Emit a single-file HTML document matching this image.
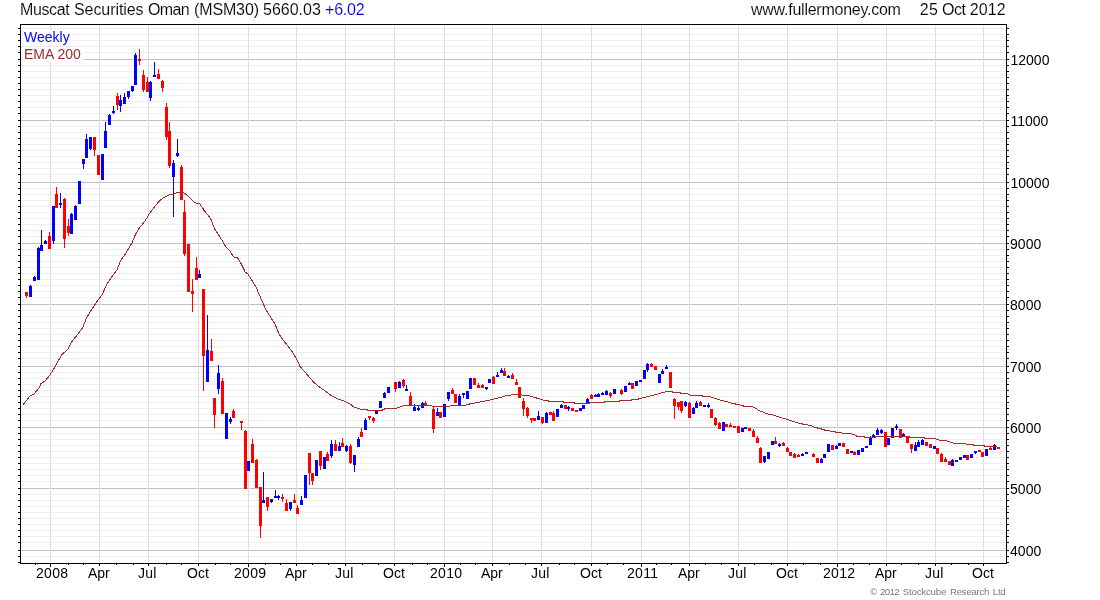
<!DOCTYPE html>
<html lang="en">
<head>
<meta charset="utf-8">
<title>Muscat Securities Oman (MSM30) - Weekly</title>
<style>
html,body{margin:0;padding:0;background:#fff;}
body{width:1100px;height:600px;overflow:hidden;position:relative;font-family:"Liberation Sans",Arial,Helvetica,sans-serif;}
svg{position:absolute;left:0;top:0;display:block;}
text{font-family:"Liberation Sans",Arial,Helvetica,sans-serif;}
#title,#site,#date{stroke:#fff;stroke-width:0.12px;paint-order:fill stroke;}
.t14{font-size:14px;}
</style>
</head>
<body>
<svg width="1100" height="600" viewBox="0 0 1100 600">
<rect x="0" y="0" width="1100" height="600" fill="#ffffff"/>
<g shape-rendering="crispEdges">
<path fill="#efefef" d="M22 28h983v1h-983zM22 34h983v1h-983zM22 40h983v1h-983zM22 46h983v1h-983zM22 52h983v1h-983zM22 65h983v1h-983zM22 71h983v1h-983zM22 77h983v1h-983zM22 83h983v1h-983zM22 89h983v1h-983zM22 95h983v1h-983zM22 101h983v1h-983zM22 107h983v1h-983zM22 113h983v1h-983zM22 126h983v1h-983zM22 132h983v1h-983zM22 138h983v1h-983zM22 144h983v1h-983zM22 150h983v1h-983zM22 156h983v1h-983zM22 162h983v1h-983zM22 168h983v1h-983zM22 174h983v1h-983zM22 188h983v1h-983zM22 194h983v1h-983zM22 200h983v1h-983zM22 206h983v1h-983zM22 212h983v1h-983zM22 218h983v1h-983zM22 224h983v1h-983zM22 230h983v1h-983zM22 236h983v1h-983zM22 249h983v1h-983zM22 255h983v1h-983zM22 261h983v1h-983zM22 267h983v1h-983zM22 273h983v1h-983zM22 279h983v1h-983zM22 285h983v1h-983zM22 291h983v1h-983zM22 297h983v1h-983zM22 310h983v1h-983zM22 316h983v1h-983zM22 322h983v1h-983zM22 328h983v1h-983zM22 334h983v1h-983zM22 340h983v1h-983zM22 346h983v1h-983zM22 352h983v1h-983zM22 358h983v1h-983zM22 372h983v1h-983zM22 378h983v1h-983zM22 384h983v1h-983zM22 390h983v1h-983zM22 396h983v1h-983zM22 402h983v1h-983zM22 408h983v1h-983zM22 414h983v1h-983zM22 420h983v1h-983zM22 433h983v1h-983zM22 439h983v1h-983zM22 445h983v1h-983zM22 451h983v1h-983zM22 457h983v1h-983zM22 463h983v1h-983zM22 469h983v1h-983zM22 475h983v1h-983zM22 481h983v1h-983zM22 494h983v1h-983zM22 500h983v1h-983zM22 506h983v1h-983zM22 512h983v1h-983zM22 518h983v1h-983zM22 524h983v1h-983zM22 530h983v1h-983zM22 536h983v1h-983zM22 542h983v1h-983zM22 556h983v1h-983z"/>
<path fill="#c0c0c0" d="M21 59h985v1h-985zM21 120h985v1h-985zM21 182h985v1h-985zM21 243h985v1h-985zM21 304h985v1h-985zM21 366h985v1h-985zM21 427h985v1h-985zM21 488h985v1h-985zM21 550h985v1h-985z"/>
<path fill="#dedede" d="M50 26h1v536h-1zM99 26h1v536h-1zM148 26h1v536h-1zM198 26h1v536h-1zM248 26h1v536h-1zM296 26h1v536h-1zM345 26h1v536h-1zM394 26h1v536h-1zM444 26h1v536h-1zM492 26h1v536h-1zM541 26h1v536h-1zM591 26h1v536h-1zM641 26h1v536h-1zM689 26h1v536h-1zM738 26h1v536h-1zM787 26h1v536h-1zM837 26h1v536h-1zM886 26h1v536h-1zM935 26h1v536h-1zM983 26h1v536h-1z"/>
<path fill="#ececec" d="M50 25h1v1h-1zM99 25h1v1h-1zM148 25h1v1h-1zM198 25h1v1h-1zM248 25h1v1h-1zM296 25h1v1h-1zM345 25h1v1h-1zM394 25h1v1h-1zM444 25h1v1h-1zM492 25h1v1h-1zM541 25h1v1h-1zM591 25h1v1h-1zM641 25h1v1h-1zM689 25h1v1h-1zM738 25h1v1h-1zM787 25h1v1h-1zM837 25h1v1h-1zM886 25h1v1h-1zM935 25h1v1h-1zM983 25h1v1h-1z"/>
<rect x="22" y="30" width="51" height="15" fill="#fff"/>
<rect x="22" y="47" width="62" height="15" fill="#fff"/>
<path fill="#000" d="M20 24h987v1h-987zM20 563h987v1h-987zM20 24h1v540h-1zM1006 24h1v540h-1zM18 28h2v1h-2zM1007 28h2v1h-2zM18 34h2v1h-2zM1007 34h2v1h-2zM18 40h2v1h-2zM1007 40h2v1h-2zM18 46h2v1h-2zM1007 46h2v1h-2zM18 52h2v1h-2zM1007 52h2v1h-2zM18 65h2v1h-2zM1007 65h2v1h-2zM18 71h2v1h-2zM1007 71h2v1h-2zM18 77h2v1h-2zM1007 77h2v1h-2zM18 83h2v1h-2zM1007 83h2v1h-2zM18 89h2v1h-2zM1007 89h2v1h-2zM18 95h2v1h-2zM1007 95h2v1h-2zM18 101h2v1h-2zM1007 101h2v1h-2zM18 107h2v1h-2zM1007 107h2v1h-2zM18 113h2v1h-2zM1007 113h2v1h-2zM18 126h2v1h-2zM1007 126h2v1h-2zM18 132h2v1h-2zM1007 132h2v1h-2zM18 138h2v1h-2zM1007 138h2v1h-2zM18 144h2v1h-2zM1007 144h2v1h-2zM18 150h2v1h-2zM1007 150h2v1h-2zM18 156h2v1h-2zM1007 156h2v1h-2zM18 162h2v1h-2zM1007 162h2v1h-2zM18 168h2v1h-2zM1007 168h2v1h-2zM18 174h2v1h-2zM1007 174h2v1h-2zM18 188h2v1h-2zM1007 188h2v1h-2zM18 194h2v1h-2zM1007 194h2v1h-2zM18 200h2v1h-2zM1007 200h2v1h-2zM18 206h2v1h-2zM1007 206h2v1h-2zM18 212h2v1h-2zM1007 212h2v1h-2zM18 218h2v1h-2zM1007 218h2v1h-2zM18 224h2v1h-2zM1007 224h2v1h-2zM18 230h2v1h-2zM1007 230h2v1h-2zM18 236h2v1h-2zM1007 236h2v1h-2zM18 249h2v1h-2zM1007 249h2v1h-2zM18 255h2v1h-2zM1007 255h2v1h-2zM18 261h2v1h-2zM1007 261h2v1h-2zM18 267h2v1h-2zM1007 267h2v1h-2zM18 273h2v1h-2zM1007 273h2v1h-2zM18 279h2v1h-2zM1007 279h2v1h-2zM18 285h2v1h-2zM1007 285h2v1h-2zM18 291h2v1h-2zM1007 291h2v1h-2zM18 297h2v1h-2zM1007 297h2v1h-2zM18 310h2v1h-2zM1007 310h2v1h-2zM18 316h2v1h-2zM1007 316h2v1h-2zM18 322h2v1h-2zM1007 322h2v1h-2zM18 328h2v1h-2zM1007 328h2v1h-2zM18 334h2v1h-2zM1007 334h2v1h-2zM18 340h2v1h-2zM1007 340h2v1h-2zM18 346h2v1h-2zM1007 346h2v1h-2zM18 352h2v1h-2zM1007 352h2v1h-2zM18 358h2v1h-2zM1007 358h2v1h-2zM18 372h2v1h-2zM1007 372h2v1h-2zM18 378h2v1h-2zM1007 378h2v1h-2zM18 384h2v1h-2zM1007 384h2v1h-2zM18 390h2v1h-2zM1007 390h2v1h-2zM18 396h2v1h-2zM1007 396h2v1h-2zM18 402h2v1h-2zM1007 402h2v1h-2zM18 408h2v1h-2zM1007 408h2v1h-2zM18 414h2v1h-2zM1007 414h2v1h-2zM18 420h2v1h-2zM1007 420h2v1h-2zM18 433h2v1h-2zM1007 433h2v1h-2zM18 439h2v1h-2zM1007 439h2v1h-2zM18 445h2v1h-2zM1007 445h2v1h-2zM18 451h2v1h-2zM1007 451h2v1h-2zM18 457h2v1h-2zM1007 457h2v1h-2zM18 463h2v1h-2zM1007 463h2v1h-2zM18 469h2v1h-2zM1007 469h2v1h-2zM18 475h2v1h-2zM1007 475h2v1h-2zM18 481h2v1h-2zM1007 481h2v1h-2zM18 494h2v1h-2zM1007 494h2v1h-2zM18 500h2v1h-2zM1007 500h2v1h-2zM18 506h2v1h-2zM1007 506h2v1h-2zM18 512h2v1h-2zM1007 512h2v1h-2zM18 518h2v1h-2zM1007 518h2v1h-2zM18 524h2v1h-2zM1007 524h2v1h-2zM18 530h2v1h-2zM1007 530h2v1h-2zM18 536h2v1h-2zM1007 536h2v1h-2zM18 542h2v1h-2zM1007 542h2v1h-2zM18 556h2v1h-2zM1007 556h2v1h-2zM18 562h2v1h-2zM1007 562h2v1h-2zM18 59h2v1h-2zM1007 59h2v1h-2zM18 120h2v1h-2zM1007 120h2v1h-2zM18 182h2v1h-2zM1007 182h2v1h-2zM18 243h2v1h-2zM1007 243h2v1h-2zM18 304h2v1h-2zM1007 304h2v1h-2zM18 366h2v1h-2zM1007 366h2v1h-2zM18 427h2v1h-2zM1007 427h2v1h-2zM18 488h2v1h-2zM1007 488h2v1h-2zM18 550h2v1h-2zM1007 550h2v1h-2zM35 564h1v1h-1zM68 564h1v1h-1zM83 564h1v1h-1zM116 564h1v1h-1zM133 564h1v1h-1zM166 564h1v1h-1zM181 564h1v1h-1zM215 564h1v1h-1zM230 564h1v1h-1zM265 564h1v1h-1zM280 564h1v1h-1zM312 564h1v1h-1zM328 564h1v1h-1zM362 564h1v1h-1zM378 564h1v1h-1zM412 564h1v1h-1zM427 564h1v1h-1zM460 564h1v1h-1zM475 564h1v1h-1zM509 564h1v1h-1zM525 564h1v1h-1zM559 564h1v1h-1zM574 564h1v1h-1zM607 564h1v1h-1zM623 564h1v1h-1zM656 564h1v1h-1zM671 564h1v1h-1zM705 564h1v1h-1zM721 564h1v1h-1zM754 564h1v1h-1zM771 564h1v1h-1zM803 564h1v1h-1zM820 564h1v1h-1zM853 564h1v1h-1zM869 564h1v1h-1zM901 564h1v1h-1zM918 564h1v1h-1zM951 564h1v1h-1zM968 564h1v1h-1zM50 564h1v3h-1zM99 564h1v2h-1zM148 564h1v2h-1zM198 564h1v2h-1zM248 564h1v3h-1zM296 564h1v2h-1zM345 564h1v2h-1zM394 564h1v2h-1zM444 564h1v3h-1zM492 564h1v2h-1zM541 564h1v2h-1zM591 564h1v2h-1zM641 564h1v3h-1zM689 564h1v2h-1zM738 564h1v2h-1zM787 564h1v2h-1zM837 564h1v3h-1zM886 564h1v2h-1zM935 564h1v2h-1zM983 564h1v2h-1z"/>
<path fill="#ff0000" d="M25 292h3v4h-3zM26 296h1v2h-1zM48 236h3v13h-3zM49 232h1v4h-1zM55 194h3v14h-3zM56 187h1v7h-1zM63 199h3v40h-3zM64 198h1v1h-1zM64 239h1v9h-1zM67 226h3v7h-3zM68 219h1v7h-1zM68 233h1v3h-1zM93 137h3v13h-3zM94 150h1v6h-1zM97 155h3v20h-3zM116 96h3v9h-3zM117 93h1v3h-1zM117 105h1v5h-1zM138 59h3v2h-3zM139 49h1v10h-1zM139 61h1v4h-1zM142 75h3v15h-3zM143 70h1v5h-1zM143 90h1v2h-1zM146 82h3v10h-3zM147 77h1v5h-1zM157 74h3v5h-3zM158 69h1v5h-1zM161 81h3v7h-3zM162 80h1v1h-1zM162 88h1v4h-1zM165 107h3v30h-3zM166 103h1v4h-1zM166 137h1v3h-1zM168 131h3v35h-3zM169 122h1v9h-1zM169 166h1v2h-1zM180 167h3v33h-3zM181 165h1v2h-1zM183 212h3v42h-3zM184 200h1v12h-1zM184 254h1v2h-1zM187 244h3v48h-3zM191 291h3v3h-3zM192 279h1v12h-1zM192 294h1v18h-1zM195 268h3v12h-3zM196 257h1v11h-1zM202 289h3v67h-3zM203 356h1v35h-1zM210 351h3v10h-3zM211 339h1v12h-1zM213 398h3v17h-3zM214 415h1v13h-1zM221 381h3v33h-3zM222 378h1v3h-1zM232 411h3v7h-3zM233 409h1v2h-1zM240 421h3v2h-3zM241 423h1v7h-1zM244 431h3v58h-3zM245 430h1v1h-1zM251 444h3v19h-3zM252 439h1v5h-1zM255 460h3v28h-3zM256 459h1v1h-1zM259 487h3v39h-3zM260 526h1v12h-1zM266 497h3v10h-3zM267 507h1v4h-1zM281 497h3v2h-3zM282 494h1v3h-1zM282 499h1v3h-1zM285 503h3v8h-3zM286 499h1v4h-1zM293 500h3v3h-3zM294 494h1v6h-1zM296 508h3v6h-3zM297 505h1v3h-1zM308 453h3v20h-3zM309 473h1v12h-1zM311 473h3v8h-3zM312 481h1v4h-1zM319 451h3v15h-3zM320 466h1v4h-1zM326 454h3v7h-3zM327 452h1v2h-1zM334 444h3v7h-3zM335 440h1v4h-1zM341 443h3v4h-3zM342 438h1v5h-1zM349 446h3v17h-3zM350 444h1v2h-1zM350 463h1v1h-1zM360 432h3v5h-3zM361 428h1v4h-1zM368 416h3v2h-3zM369 418h1v2h-1zM372 418h3v3h-3zM373 417h1v1h-1zM373 421h1v2h-1zM394 382h3v7h-3zM395 389h1v3h-1zM402 380h3v6h-3zM403 379h1v1h-1zM403 386h1v2h-1zM409 396h3v9h-3zM410 392h1v4h-1zM424 403h3v2h-3zM425 401h1v2h-1zM432 409h3v20h-3zM433 407h1v2h-1zM433 429h1v4h-1zM439 412h3v6h-3zM451 390h3v4h-3zM452 388h1v2h-1zM454 394h3v9h-3zM473 378h3v7h-3zM477 385h3v3h-3zM478 383h1v2h-1zM481 385h3v3h-3zM482 384h1v1h-1zM492 377h3v7h-3zM493 376h1v1h-1zM503 371h3v5h-3zM504 368h1v3h-1zM511 375h3v4h-3zM512 373h1v2h-1zM515 382h3v3h-3zM516 379h1v3h-1zM518 387h3v11h-3zM522 401h3v8h-3zM523 398h1v3h-1zM523 409h1v7h-1zM526 408h3v8h-3zM527 407h1v1h-1zM527 416h1v2h-1zM530 418h3v2h-3zM531 420h1v3h-1zM533 418h3v3h-3zM541 417h3v6h-3zM542 423h1v1h-1zM549 412h3v3h-3zM552 413h3v8h-3zM553 411h1v2h-1zM564 405h3v4h-3zM571 408h3v3h-3zM575 410h3v2h-3zM590 395h3v4h-3zM591 394h1v1h-1zM609 393h3v3h-3zM610 392h1v1h-1zM610 396h1v2h-1zM620 390h3v4h-3zM621 389h1v1h-1zM621 394h1v1h-1zM631 383h3v6h-3zM650 364h3v3h-3zM651 363h1v1h-1zM654 366h3v4h-3zM669 372h3v16h-3zM673 399h3v7h-3zM674 398h1v1h-1zM674 406h1v13h-1zM677 402h3v5h-3zM678 407h1v3h-1zM680 401h3v10h-3zM681 411h1v2h-1zM688 403h3v15h-3zM689 402h1v1h-1zM699 402h3v4h-3zM700 401h1v1h-1zM710 409h3v9h-3zM714 418h3v7h-3zM715 417h1v1h-1zM715 425h1v1h-1zM718 423h3v6h-3zM719 422h1v1h-1zM725 424h3v3h-3zM729 425h3v2h-3zM730 423h1v2h-1zM733 426h3v2h-3zM737 426h3v7h-3zM748 428h3v3h-3zM752 431h3v6h-3zM753 429h1v2h-1zM756 438h3v5h-3zM757 436h1v2h-1zM759 448h3v15h-3zM760 447h1v1h-1zM774 441h3v3h-3zM775 437h1v4h-1zM782 443h3v3h-3zM783 442h1v1h-1zM786 448h3v4h-3zM787 447h1v1h-1zM789 452h3v4h-3zM793 454h3v4h-3zM794 453h1v1h-1zM797 455h3v2h-3zM798 454h1v1h-1zM812 454h3v3h-3zM813 453h1v1h-1zM816 458h3v5h-3zM831 445h3v5h-3zM842 443h3v4h-3zM846 449h3v5h-3zM853 452h3v3h-3zM854 451h1v1h-1zM884 432h3v15h-3zM899 429h3v9h-3zM906 436h3v7h-3zM910 444h3v5h-3zM911 449h1v4h-1zM925 442h3v4h-3zM929 444h3v4h-3zM936 448h3v6h-3zM940 454h3v8h-3zM941 453h1v1h-1zM944 459h3v3h-3zM945 457h1v2h-1zM948 461h3v4h-3zM966 455h3v5h-3zM978 450h3v2h-3zM981 452h3v5h-3zM989 448h3v2h-3zM990 447h1v1h-1zM997 447h3v2h-3z"/>
<path fill="#0000ff" d="M29 286h3v11h-3zM30 285h1v1h-1zM33 277h3v4h-3zM34 276h1v1h-1zM37 248h3v32h-3zM38 247h1v1h-1zM40 245h3v6h-3zM41 230h1v15h-1zM44 241h3v3h-3zM45 240h1v1h-1zM52 206h3v35h-3zM53 241h1v3h-1zM59 203h3v2h-3zM60 193h1v10h-1zM60 205h1v3h-1zM70 214h3v20h-3zM71 213h1v1h-1zM74 206h3v14h-3zM75 205h1v1h-1zM78 181h3v23h-3zM82 159h3v5h-3zM83 164h1v5h-1zM85 139h3v19h-3zM86 134h1v5h-1zM89 137h3v12h-3zM90 149h1v1h-1zM101 154h3v26h-3zM104 131h3v17h-3zM105 122h1v9h-1zM108 115h3v10h-3zM109 114h1v1h-1zM112 111h3v2h-3zM113 106h1v5h-1zM113 113h1v1h-1zM119 100h3v6h-3zM120 95h1v5h-1zM120 106h1v6h-1zM123 97h3v7h-3zM124 93h1v4h-1zM127 91h3v6h-3zM128 97h1v2h-1zM131 86h3v5h-3zM132 91h1v1h-1zM134 55h3v30h-3zM135 53h1v2h-1zM149 82h3v16h-3zM150 81h1v1h-1zM150 98h1v3h-1zM153 75h3v2h-3zM154 62h1v13h-1zM172 163h3v14h-3zM173 160h1v3h-1zM173 177h1v40h-1zM176 153h3v3h-3zM177 139h1v14h-1zM177 156h1v1h-1zM198 274h3v4h-3zM199 270h1v4h-1zM206 350h3v32h-3zM207 315h1v35h-1zM217 373h3v16h-3zM218 365h1v8h-1zM218 389h1v5h-1zM225 413h3v26h-3zM229 419h3v3h-3zM230 417h1v2h-1zM230 422h1v2h-1zM247 461h3v10h-3zM262 500h3v3h-3zM263 472h1v28h-1zM270 499h3v3h-3zM271 502h1v1h-1zM274 496h3v2h-3zM275 490h1v6h-1zM277 496h3v2h-3zM278 495h1v1h-1zM278 498h1v2h-1zM289 502h3v7h-3zM290 509h1v2h-1zM300 500h3v5h-3zM301 496h1v4h-1zM304 475h3v23h-3zM315 460h3v16h-3zM323 457h3v12h-3zM330 444h3v12h-3zM331 440h1v4h-1zM331 456h1v2h-1zM338 446h3v5h-3zM339 442h1v4h-1zM345 446h3v5h-3zM346 445h1v1h-1zM346 451h1v1h-1zM353 455h3v10h-3zM354 465h1v7h-1zM357 439h3v8h-3zM358 437h1v2h-1zM364 420h3v10h-3zM365 418h1v2h-1zM375 411h3v3h-3zM379 401h3v7h-3zM383 393h3v5h-3zM384 392h1v1h-1zM387 387h3v6h-3zM398 382h3v6h-3zM399 381h1v1h-1zM405 389h3v2h-3zM406 385h1v4h-1zM413 407h3v4h-3zM414 404h1v3h-1zM417 408h3v2h-3zM418 406h1v2h-1zM418 410h1v1h-1zM421 403h3v5h-3zM422 402h1v1h-1zM436 412h3v4h-3zM437 408h1v4h-1zM443 404h3v13h-3zM447 392h3v7h-3zM448 399h1v2h-1zM458 396h3v9h-3zM459 394h1v2h-1zM462 393h3v2h-3zM463 395h1v3h-1zM466 391h3v8h-3zM469 378h3v11h-3zM485 387h3v2h-3zM486 389h1v1h-1zM488 379h3v4h-3zM496 375h3v2h-3zM497 372h1v3h-1zM500 370h3v3h-3zM501 368h1v2h-1zM507 376h3v2h-3zM508 375h1v1h-1zM537 416h3v4h-3zM538 411h1v5h-1zM545 413h3v10h-3zM546 412h1v1h-1zM556 409h3v8h-3zM560 405h3v3h-3zM561 404h1v1h-1zM567 407h3v2h-3zM568 406h1v1h-1zM568 409h1v2h-1zM579 408h3v3h-3zM582 405h3v4h-3zM586 399h3v4h-3zM587 398h1v1h-1zM594 395h3v2h-3zM595 394h1v1h-1zM597 394h3v3h-3zM598 393h1v1h-1zM601 393h3v2h-3zM602 392h1v1h-1zM605 391h3v4h-3zM606 390h1v1h-1zM613 389h3v5h-3zM624 386h3v6h-3zM628 383h3v2h-3zM629 382h1v1h-1zM635 381h3v5h-3zM639 380h3v2h-3zM643 370h3v9h-3zM646 364h3v6h-3zM647 363h1v1h-1zM647 370h1v2h-1zM658 374h3v9h-3zM661 371h3v3h-3zM662 369h1v2h-1zM665 367h3v2h-3zM666 365h1v2h-1zM684 402h3v4h-3zM685 401h1v1h-1zM685 406h1v1h-1zM692 408h3v6h-3zM693 407h1v1h-1zM695 403h3v5h-3zM696 401h1v2h-1zM703 405h3v2h-3zM707 405h3v2h-3zM708 403h1v2h-1zM708 407h1v1h-1zM722 422h3v9h-3zM741 428h3v4h-3zM744 427h3v2h-3zM763 456h3v6h-3zM764 462h1v1h-1zM767 452h3v7h-3zM771 441h3v4h-3zM778 444h3v2h-3zM779 443h1v1h-1zM779 446h1v1h-1zM801 454h3v2h-3zM802 453h1v1h-1zM805 452h3v2h-3zM820 459h3v4h-3zM821 458h1v1h-1zM823 454h3v4h-3zM827 444h3v8h-3zM835 446h3v3h-3zM836 445h1v1h-1zM838 443h3v3h-3zM850 451h3v2h-3zM857 450h3v5h-3zM861 448h3v4h-3zM865 446h3v2h-3zM869 438h3v7h-3zM870 436h1v2h-1zM872 435h3v3h-3zM873 434h1v1h-1zM876 430h3v5h-3zM877 428h1v2h-1zM880 430h3v3h-3zM881 429h1v1h-1zM881 433h1v1h-1zM887 438h3v7h-3zM891 428h3v10h-3zM895 426h3v2h-3zM896 424h1v2h-1zM896 428h1v2h-1zM902 434h3v2h-3zM903 433h1v1h-1zM914 445h3v6h-3zM915 442h1v3h-1zM917 442h3v5h-3zM918 440h1v2h-1zM921 440h3v5h-3zM922 439h1v1h-1zM933 446h3v3h-3zM951 460h3v6h-3zM952 459h1v1h-1zM955 460h3v2h-3zM959 457h3v3h-3zM963 455h3v3h-3zM970 454h3v4h-3zM974 451h3v2h-3zM975 453h1v1h-1zM985 449h3v7h-3zM993 445h3v5h-3zM994 444h1v1h-1z"/>
<polyline fill="none" stroke="#a52a2a" stroke-width="1" points="22.6,405.3 30,396 34,394 39,388 41,383.5 45,381 50,375 55,367 59,359.5 62,354.5 68,349 71,343 73,340 78,334 83,327 86.5,318 90,312 94,306 98,300 102,295 106,286 109,281 113,275 117,270 120,262 122,258.5 125,254.5 128,249.5 132,243 133,240 135.5,234.5 138.5,229 140.5,226.5 143.5,223 146.5,218.5 149.5,213.5 152,210 155.5,205.5 159.5,201 163,198 166,196.3 169.5,194.7 173.5,194.3 177,192.5 181,192.3 184,193 186.5,194.7 190,198 193.5,201.5 196.5,203.3 199.5,203.5 203,208.5 204,210.5 207.5,214.5 211,219.5 213.5,226 215.5,230.5 219,235.5 222.5,241 225.5,246.5 230,251 233.5,257 237.5,257.5 241,263.5 244,269.5 245,272 248,274 256,287 262,301 266,310 275,324 279,334 283,340 288,346 293,353 297,360 300,366.5 305,372 310,378 314,382.5 318,386 323,389.5 328,393 332,396 338,399 344,401 350,404 354,407 360,409 367,409.5 368,410.5 382,410.5 383,409.5 386,408.5 397,408 405,405.5 431,405.5 433,406.5 449,406.5 451,405.5 465,405.5 467,404.5 472,403.5 480,402 488,400.5 492,399.5 500,397.5 507,395.5 515,394.5 520,394.5 524,395.5 529,395.5 533,397 540,399 545,400.5 552,401.5 563,401.5 564,402.5 574,402.5 575,403.5 589,403.5 590,402.5 604,402.5 605,401.5 619,401.5 620,400.5 631,400.5 632,399.5 638,399.5 639,398.5 642,398 646,397 650,396 654,395 658,394 661,393 665,392 669,391.3 672,391.5 673,392.5 680,392.5 681,393.5 687,393.5 690,395 702,395.5 703,396.5 710,396.5 714,398 720,400 726,401.5 733,403.5 738,404.5 742,405.5 745,406.5 752,406.5 755,408 760,411 768,414 775,415.5 780,417.5 788,419.5 793,421.5 800,423.5 805,424.5 811,425.5 815,427.5 820,428.5 826,430.5 833,431.5 838,432.5 845,433.5 852,434 856,435.5 857,436.5 864,436.5 865,437.5 875,437.5 876,436.5 909,436.5 910,437.5 924,437.5 925,438.5 935,438.5 939,440 942,440.5 947,441 950,442 954,443.5 965,443.5 967,444.5 973,444.5 974,445.5 984,445.5 985,446.5 997,446.5"/>
</g>
<text id="title" y="15" fill="#000" style="font-size:16px"><tspan x="20" style="letter-spacing:-0.400px">Muscat </tspan><tspan x="74" style="letter-spacing:-0.078px">Securities </tspan><tspan x="148" style="letter-spacing:-0.667px">Oman </tspan><tspan x="194" style="letter-spacing:-0.133px">(MSM30) </tspan><tspan x="263" style="letter-spacing:0.000px">5660.03 </tspan><tspan x="325" fill="#0000cc" style="letter-spacing:-0.200px">+6.02</tspan></text>
<text id="site" y="15" fill="#000" style="font-size:16px"><tspan x="751" style="letter-spacing:-0.250px">www.fullermoney.com</tspan></text>
<text id="date" y="15" fill="#000" style="font-size:16px"><tspan x="919.8" style="letter-spacing:0.400px">25 </tspan><tspan x="942" style="letter-spacing:-0.500px">Oct </tspan><tspan x="969.8" style="letter-spacing:0.067px">2012</tspan></text>
<text class="t14" x="24" y="42" fill="#0000ff">Weekly</text>
<text class="t14" x="24" y="59" fill="#a52a2a">EMA 200</text>
<text class="t14" x="1010.5" y="65" fill="#000" style="letter-spacing:0px">12000</text>
<text class="t14" x="1010.5" y="126" fill="#000" style="letter-spacing:0px">11000</text>
<text class="t14" x="1010.5" y="188" fill="#000" style="letter-spacing:0px">10000</text>
<text class="t14" x="1010" y="249" fill="#000" style="letter-spacing:0.07px">9000</text>
<text class="t14" x="1010" y="310" fill="#000" style="letter-spacing:0.07px">8000</text>
<text class="t14" x="1010" y="372" fill="#000" style="letter-spacing:0.07px">7000</text>
<text class="t14" x="1010" y="433" fill="#000" style="letter-spacing:0.07px">6000</text>
<text class="t14" x="1010" y="494" fill="#000" style="letter-spacing:0.07px">5000</text>
<text class="t14" x="1010" y="556" fill="#000" style="letter-spacing:0.07px">4000</text>
<text class="t14" x="36" y="578" fill="#000" style="letter-spacing:0.33px">2008</text>
<text class="t14" x="88" y="578" fill="#000" style="letter-spacing:0px">Apr</text>
<text class="t14" x="138" y="578" fill="#000" style="letter-spacing:0.2px">Jul</text>
<text class="t14" x="187" y="578" fill="#000" style="letter-spacing:0.1px">Oct</text>
<text class="t14" x="234" y="578" fill="#000" style="letter-spacing:0.33px">2009</text>
<text class="t14" x="285" y="578" fill="#000" style="letter-spacing:0px">Apr</text>
<text class="t14" x="335" y="578" fill="#000" style="letter-spacing:0.2px">Jul</text>
<text class="t14" x="383" y="578" fill="#000" style="letter-spacing:0.1px">Oct</text>
<text class="t14" x="430" y="578" fill="#000" style="letter-spacing:0.33px">2010</text>
<text class="t14" x="481" y="578" fill="#000" style="letter-spacing:0px">Apr</text>
<text class="t14" x="531" y="578" fill="#000" style="letter-spacing:0.2px">Jul</text>
<text class="t14" x="580" y="578" fill="#000" style="letter-spacing:0.1px">Oct</text>
<text class="t14" x="627" y="578" fill="#000" style="letter-spacing:0.33px">2011</text>
<text class="t14" x="678" y="578" fill="#000" style="letter-spacing:0px">Apr</text>
<text class="t14" x="728" y="578" fill="#000" style="letter-spacing:0.2px">Jul</text>
<text class="t14" x="776" y="578" fill="#000" style="letter-spacing:0.1px">Oct</text>
<text class="t14" x="823" y="578" fill="#000" style="letter-spacing:0.33px">2012</text>
<text class="t14" x="875" y="578" fill="#000" style="letter-spacing:0px">Apr</text>
<text class="t14" x="925" y="578" fill="#000" style="letter-spacing:0.2px">Jul</text>
<text class="t14" x="972" y="578" fill="#000" style="letter-spacing:0.1px">Oct</text>
<text id="copyright" y="595" fill="#7a7a7a" style="font-size:9.7px"><tspan x="870" style="letter-spacing:0px">© </tspan><tspan x="880" style="letter-spacing:-0.67px">2012 </tspan><tspan x="902.7" style="letter-spacing:-0.19px">Stockcube </tspan><tspan x="950.1" style="letter-spacing:-0.31px">Research </tspan><tspan x="992.7" style="letter-spacing:-0.2px">Ltd</tspan></text>
</svg>
</body>
</html>
